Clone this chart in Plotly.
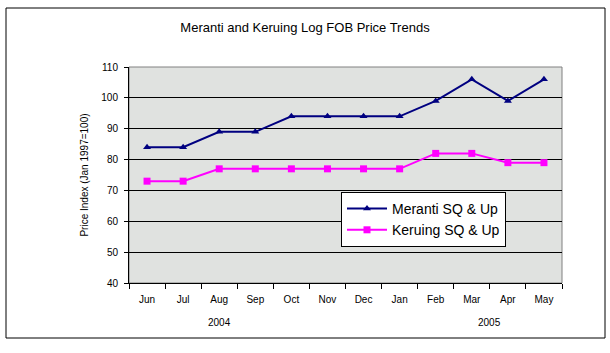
import plotly.graph_objects as go

months = ["Jun", "Jul", "Aug", "Sep", "Oct", "Nov", "Dec", "Jan", "Feb", "Mar", "Apr", "May"]
meranti = [84, 84, 89, 89, 94, 94, 94, 94, 99, 106, 99, 106]
keruing = [73, 73, 77, 77, 77, 77, 77, 77, 82, 82, 79, 79]
years = ["2004", "2005"]
year_pos = [2, 9.5]

W, H = 610, 353
L, R, T, B = 129, 48, 67, 70
pw, ph = W - L - R, H - T - B

def px(x):
    return (x - L) / pw

def py(y):
    return (H - B - y) / ph

font = "Liberation Sans, Arial, sans-serif"

fig = go.Figure()
fig.add_trace(go.Scatter(
    x=months, y=meranti, name="Meranti SQ & Up", mode="lines+markers",
    line=dict(color="#000080", width=2),
    marker=dict(symbol="triangle-up", size=7, color="#000080"),
))
fig.add_trace(go.Scatter(
    x=months, y=keruing, name="Keruing SQ & Up", mode="lines+markers",
    line=dict(color="#FF00FF", width=2),
    marker=dict(symbol="square", size=7, color="#FF00FF"),
))

fig.update_layout(
    width=W, height=H,
    margin=dict(l=L, r=R, t=T, b=B),
    paper_bgcolor="white",
    plot_bgcolor="#E0E2E0",
    font=dict(family=font, size=10, color="black"),
    title=dict(text="Meranti and Keruing Log FOB Price Trends", x=(305) / W, xanchor="center",
               y=1 - 27 / H, yanchor="middle", font=dict(size=13)),
    legend=dict(x=px(341), y=py(192), xanchor="left", yanchor="top",
                bgcolor="white", bordercolor="black", borderwidth=1,
                font=dict(size=14), tracegroupgap=0, itemwidth=40),
    showlegend=True,
)
fig.update_xaxes(
    type="category", range=[-0.5, 11.5], tickson="boundaries",
    ticks="outside", ticklen=5, tickcolor="black", ticklabelstandoff=7,
    showline=True, linecolor="black", linewidth=1,
    showgrid=False, tickfont=dict(size=10),
)
fig.update_yaxes(
    range=[40, 110], dtick=10, ticks="outside", ticklen=4, tickcolor="black",
    ticklabelstandoff=4,
    showline=True, linecolor="black", linewidth=1,
    showgrid=True, gridcolor="black", gridwidth=1,
    zeroline=False, tickfont=dict(size=10),
    title=dict(text="Price Index (Jan 1997=100)", font=dict(size=10), standoff=10),
)

# plot area border (top/right gray)
fig.add_shape(type="rect", xref="paper", yref="paper", x0=0, x1=1, y0=0, y1=1,
              line=dict(color="#808080", width=1), layer="below")
# outer chart border
fig.add_shape(type="rect", xref="paper", yref="paper",
              x0=px(6), x1=px(605), y0=py(338), y1=py(8),
              line=dict(color="black", width=1))

for yl, xp in zip(years, year_pos):
    fig.add_annotation(x=xp, y=py(322), xref="x", yref="paper", text=yl,
                       showarrow=False, font=dict(size=10), yanchor="middle")

fig.write_html("out.html")
